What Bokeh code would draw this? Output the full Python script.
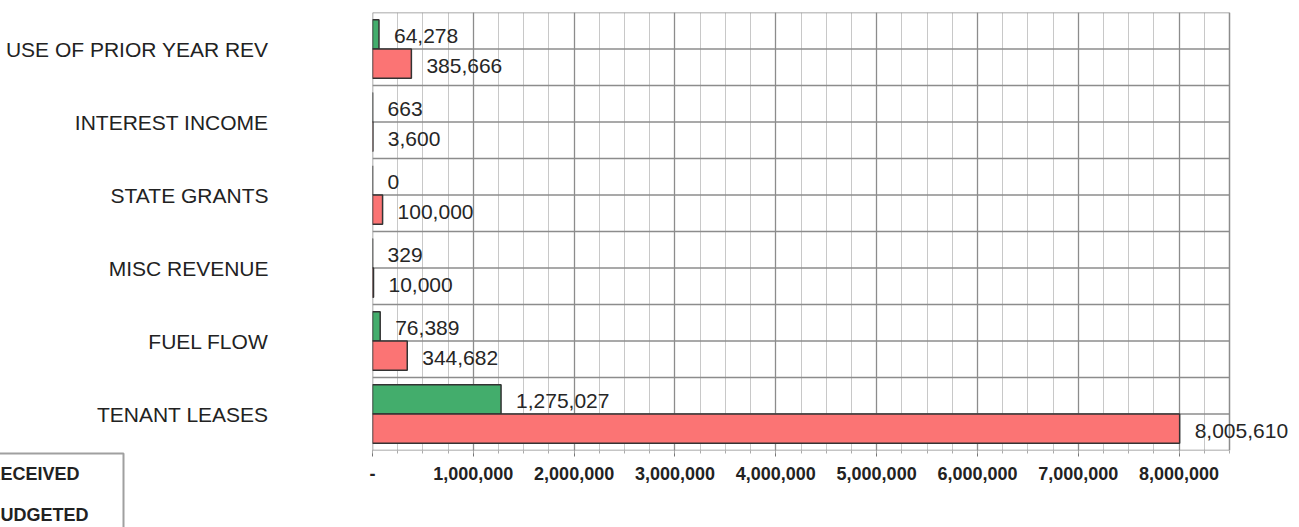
from bokeh.plotting import figure
from bokeh.models import (ColumnDataSource, Range1d, FixedTicker, LabelSet, Label)
from bokeh.core.properties import value
from bokeh.embed import file_html
from bokeh.resources import INLINE

categories = ["USE OF PRIOR YEAR REV", "INTEREST INCOME", "STATE GRANTS",
              "MISC REVENUE", "FUEL FLOW", "TENANT LEASES"]
received = [64278, 663, 0, 329, 76389, 1275027]
budgeted = [385666, 3600, 100000, 10000, 344682, 8005610]
x_ticks = [0, 1000000, 2000000, 3000000, 4000000, 5000000, 6000000, 7000000, 8000000]
x_tick_labels = ["-", "1,000,000", "2,000,000", "3,000,000", "4,000,000",
                 "5,000,000", "6,000,000", "7,000,000", "8,000,000"]
legend_names = ["RECEIVED", "BUDGETED"]

n = len(categories)
centers = [n - i - 0.5 for i in range(n)]
y_rec = [c + 0.2 for c in centers]
y_bud = [c - 0.2 for c in centers]

FONT = "Liberation Sans"
GREEN = "#43ad6c"
RED = "#fb7474"
GRID = "#8c8c8c"

# axis ends at 8.5M (pixel 1229); frame extends to page edge so value labels are not clipped
AX_MAX = 8500000
PLOT_W_PX, FRAME_W_PX = 857, 927
x_end = AX_MAX * FRAME_W_PX / PLOT_W_PX

p = figure(width=1299, height=527, frame_width=FRAME_W_PX, frame_height=438,
           x_range=Range1d(0, x_end), y_range=Range1d(0, n),
           output_backend="svg", toolbar_location=None,
           min_border_left=372, min_border_right=0, min_border_top=12, min_border_bottom=77)
p.background_fill_color = "white"
p.border_fill_color = "white"
p.outline_line_color = None

# vertical grid (major every 1M, minor every 250k) limited to the chart area
xt = FixedTicker(ticks=x_ticks, minor_ticks=[i * 250000 for i in range(35)])
p.xgrid.ticker = xt
p.xgrid.bounds = (0, AX_MAX)
p.xgrid.grid_line_color = GRID
p.xgrid.grid_line_width = 1.3
p.xgrid.minor_grid_line_color = "#c8c8c8"
p.xgrid.minor_grid_line_width = 1
p.ygrid.visible = False

# horizontal lines at every half band + frame edges of the chart area
hl = [i * 0.5 for i in range(2 * n + 1)]
p.segment(x0=[0] * len(hl), x1=[AX_MAX] * len(hl), y0=hl, y1=hl,
          line_color=GRID, line_width=1.5)
p.segment(x0=[AX_MAX, 0], x1=[AX_MAX, 0], y0=[0, 0], y1=[n, n],
          line_color=GRID, line_width=1.5)

src_rec = ColumnDataSource(dict(y=y_rec, v=received, t=["{:,}".format(v) for v in received]))
src_bud = ColumnDataSource(dict(y=y_bud, v=budgeted, t=["{:,}".format(v) for v in budgeted]))

p.hbar(y="y", right="v", left=0, height=0.4, source=src_rec, fill_color=GREEN,
       line_color="#333333", line_width=1.5)
p.hbar(y="y", right="v", left=0, height=0.4, source=src_bud, fill_color=RED,
       line_color="#333333", line_width=1.5)

for src in (src_rec, src_bud):
    p.add_layout(LabelSet(x="v", y="y", text="t", source=src, x_offset=15, y_offset=-2,
                          text_font=value(FONT), text_font_size="21px", text_color="#262626",
                          text_baseline="middle", text_align="left"))

# x axis
p.xaxis.ticker = xt
p.xaxis.bounds = (0, AX_MAX)
p.xaxis.major_label_overrides = {t: l for t, l in zip(x_ticks, x_tick_labels)}
p.xaxis.axis_line_color = None
p.xaxis.major_tick_out = 6
p.xaxis.major_tick_in = 0
p.xaxis.minor_tick_out = 3
p.xaxis.minor_tick_in = 0
p.xaxis.major_tick_line_color = "#777777"
p.xaxis.minor_tick_line_color = "#aaaaaa"
p.xaxis.major_label_standoff = 10
p.xaxis.major_label_text_font = FONT
p.xaxis.major_label_text_font_size = "18px"
p.xaxis.major_label_text_font_style = "bold"
p.xaxis.major_label_text_color = "#222222"

# y axis (category names)
p.yaxis.ticker = FixedTicker(ticks=centers)
p.yaxis.major_label_overrides = {c: name for c, name in zip(centers, categories)}
p.yaxis.axis_line_color = None
p.yaxis.major_tick_line_color = None
p.yaxis.minor_tick_line_color = None
p.yaxis.major_tick_out = 0
p.yaxis.major_tick_in = 0
p.yaxis.major_label_standoff = 104
p.yaxis.major_label_text_font = FONT
p.yaxis.major_label_text_font_size = "21px"
p.yaxis.major_label_text_color = "#222222"

# legend frame (partly off the page on the left, as in the reference)
p.add_layout(Label(x=-40, y=453, x_units="canvas", y_units="canvas", text=" ",
                   text_font=FONT, text_font_size="18px", text_font_style="bold",
                   text_color="white", text_baseline="top", text_align="left",
                   background_fill_color="white",
                   border_line_color="#a0a0a0", border_line_width=2,
                   padding=dict(left=45, right=113, top=40, bottom=46)),
             "below")
for name, yy in zip(legend_names, [473, 514]):
    p.add_layout(Label(x=-13, y=yy, x_units="canvas", y_units="canvas", text=name,
                       text_font=FONT, text_font_size="18px", text_font_style="bold",
                       text_color="#222222", text_baseline="middle", text_align="left"),
                 "below")

open("out.html", "w").write(file_html(p, INLINE))
